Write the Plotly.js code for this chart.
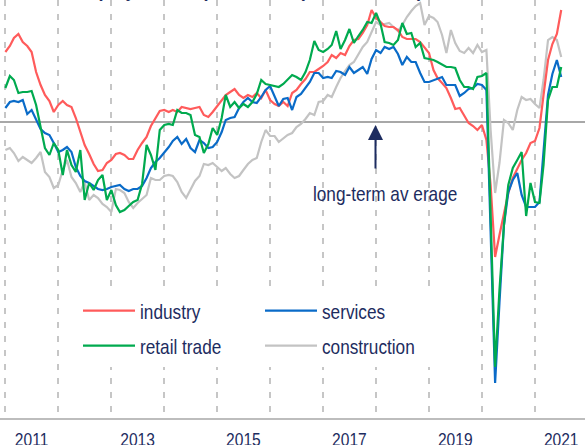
<!DOCTYPE html>
<html>
<head>
<meta charset="utf-8">
<script src="https://cdn.plot.ly/plotly-3.0.1.min.js"></script>
<style>
  html, body { margin: 0; padding: 0; background: #ffffff; }
  #chart { width: 585px; height: 445px; }
  /* the reference key is set in a narrow face: squeeze the legend labels */
  #chart text.legendtext, #chart text.legend2text {
    transform-box: fill-box;
    transform-origin: 0% 50%;
    transform: scaleX(0.82);
  }
</style>
</head>
<body>
<div id="chart"></div>
<script>
// Monthly series, Jan 2011 .. Jul 2021 (standardised balances, long-term average = 0)
const startYear = 2011;
const industry = [
  7.0, 7.6, 8.4, 8.8, 8.0, 7.6, 7.0, 5.0, 3.7, 2.7, 2.1, 1.0,
  1.7, 2.1, 1.7, 1.5, 0.4, -1.0, -2.3, -3.2, -4.2, -4.9, -4.8, -4.1,
  -3.8, -3.2, -3.1, -3.3, -3.7, -3.7, -2.8, -2.1, -1.5, -0.4, 0.4, 1.1,
  1.2, 1.0, 1.2, 1.0, 1.5, 1.4, 1.3, 1.4, 1.5, 0.7, 0.5, 1.0,
  1.6, 2.2, 2.7, 3.0, 3.3, 2.7, 2.4, 2.7, 2.5, 2.9, 2.4, 3.2,
  2.2, 1.8, 1.6, 2.0, 1.6, 2.9, 3.2, 3.8, 4.3, 5.0, 5.0, 5.3,
  5.6, 6.0, 6.7, 6.4, 6.9, 6.7, 7.6, 8.2, 8.3, 8.9, 9.7, 11.2,
  10.4, 10.0, 9.6, 9.5, 9.5, 9.2, 8.5, 8.3, 8.3, 8.3, 8.0, 7.5,
  6.9, 5.2, 4.4, 3.9, 3.4, 2.4, 1.3, 1.4, 0.6, -0.1, -0.4, -0.8,
  -0.3, -1.8, -6.3, -13.5, -11.3, -9.0, -7.1, -5.6, -4.6, -3.8, -3.1, -2.1,
  -1.9, -0.6, 2.7, 6.2, 7.8, 8.8, 11.2
];
const services = [
  1.4, 2.0, 2.1, 2.0, 2.2, 0.8, 1.2, 0.3, -0.7, -1.1, -1.3, -2.1,
  -3.0, -2.8, -2.5, -3.0, -4.5, -5.4, -5.9, -6.1, -6.4, -6.7, -6.8, -6.7,
  -6.5, -6.4, -6.3, -6.7, -6.9, -6.7, -6.7, -6.4, -5.6, -4.6, -4.0, -3.6,
  -3.1, -2.5, -1.9, -1.5, -2.2, -1.7, -2.6, -3.0, -1.8, -2.1, -2.6, -2.5,
  -2.0, -1.0, 0.2, 0.4, 0.5, 1.4, 2.0, 2.4, 2.0, 1.9, 2.5, 3.2,
  3.6, 2.5, 1.6, 2.3, 2.4, 1.2, 2.5, 2.8, 3.4, 4.0, 4.9, 4.9,
  4.4, 4.5, 4.4, 5.1, 5.0, 4.7, 5.5, 4.9, 5.2, 5.5, 4.8, 6.3,
  7.2, 6.9, 7.5, 7.3, 7.5, 6.8, 5.7, 6.5, 6.0, 6.0, 4.9, 4.0,
  4.0, 4.2, 4.3, 4.5, 3.7, 3.7, 3.7, 2.6, 2.9, 3.3, 3.4, 3.8,
  3.7, 3.2, -11.4, -26.1, -18.1, -10.3, -7.0, -5.8, -5.1, -7.3, -8.5, -8.5,
  -8.5, -8.0, -3.3, 2.7, 4.8, 6.2, 4.5
];
const retailTrade = [
  3.4, 4.6, 4.2, 2.9, 3.0, 3.0, 3.1, 1.7, -0.5, -2.6, -3.3, -2.1,
  -2.8, -5.3, -2.8, -4.3, -5.0, -2.8, -7.8, -6.1, -6.8, -5.8, -5.3, -7.8,
  -6.8, -8.3, -9.0, -8.8, -8.4, -8.0, -7.8, -6.2, -2.3, -3.3, -4.8, -0.8,
  -0.3, -0.2, -0.3, 1.2, 0.9, 0.9, 0.7, -1.3, -1.5, -3.1, -2.2, -0.6,
  -1.3, 0.4, 2.7, 1.5, 2.0, 1.4, 1.8, 1.5, 2.0, 2.8, 4.2, 3.8,
  3.7, 3.6, 3.5, 3.8, 4.2, 4.7, 4.5, 4.2, 5.0, 6.2, 8.1, 7.2,
  7.0, 7.3, 7.7, 9.1, 7.3, 8.2, 9.3, 7.9, 8.6, 9.2, 10.0, 9.9,
  10.9, 9.8, 8.0, 7.9, 7.7, 8.2, 9.9, 8.8, 8.9, 7.5, 7.9, 6.4,
  6.3, 6.2, 6.0, 5.7, 5.5, 5.5, 5.4, 4.2, 3.5, 3.5, 3.3, 4.5,
  4.6, 4.9, -9.8, -24.5, -16.8, -10.3, -6.3, -4.6, -3.8, -3.0, -9.4, -6.1,
  -8.0, -8.1, -4.3, 2.2, 3.5, 3.5, 5.5
];
const construction = [
  -2.8, -2.6, -3.1, -3.9, -3.5, -3.8, -4.1, -3.6, -3.0, -5.0, -5.5, -6.6,
  -6.3, -4.8, -3.8, -5.5, -6.1, -7.0, -6.0, -7.8, -7.3, -7.6, -8.2, -8.5,
  -9.0, -6.7, -6.8, -7.1, -8.0, -8.6, -8.1, -7.7, -7.3, -5.6, -5.8, -5.8,
  -5.4, -5.3, -5.4, -6.0, -7.0, -7.6, -6.8, -5.9, -5.4, -4.2, -4.3, -4.1,
  -4.5, -4.9, -4.6, -5.2, -5.6, -5.4, -4.8, -4.2, -3.8, -3.6, -2.0, -0.8,
  -1.4, -1.4, -2.0, -1.6, -1.3, -1.1, -0.5, -0.2, 0.3, 0.9, 0.7, 2.0,
  2.1, 2.7, 2.5, 3.5, 4.4, 5.1, 5.7, 6.0, 6.8, 7.5, 8.0, 8.9,
  10.0, 9.7, 9.8, 9.9, 9.5, 9.1, 9.7, 10.5, 11.1, 11.6, 11.9, 9.7,
  10.6, 10.4, 10.0, 8.7, 6.9, 9.2, 7.9, 7.1, 6.9, 7.4, 6.9, 7.7,
  7.0, 7.2, -0.8, -7.1, -4.1, 0.2, -0.1, -0.8, 1.2, 2.5, 2.2, 2.3,
  1.8, 1.4, 4.2, 8.2, 8.5, 8.2, 6.5
];
const seriesNames = ['industry', 'services', 'retail trade', 'construction'];
const seriesColors = ['#ff5b5b', '#0a6bc8', '#00aa4f', '#c3c3c3'];
const tickYears = ['2011', '2013', '2015', '2017', '2019', '2021'];
const titleText = 'Chart: EA, EC employment expectations (standardised)';
const noteText = 'long-term av erage';

// monthly dates
const months = industry.map((_, i) => {
  const d = new Date(Date.UTC(startYear, i, 1));
  return d.toISOString().slice(0, 10);
});

const navy = '#1d2c60';
const sans = '"Liberation Sans", Arial, sans-serif';
const SQUEEZE = 0.82;   // the reference text is set in a narrow face

function line(y, k, legend, rank) {
  return {
    type: 'scatter', mode: 'lines', x: months, y: y,
    name: seriesNames[k], legend: legend, legendrank: rank,
    line: { color: seriesColors[k], width: 2.2 },
    hoverinfo: 'skip'
  };
}

// key row 1 -> legend, key row 2 -> legend2
const data = [
  line(construction, 3, 'legend2', 2),
  line(industry, 0, 'legend', 1),
  line(services, 1, 'legend', 2),
  line(retailTrade, 2, 'legend2', 1)
];

const legendBase = {
  orientation: 'h', xanchor: 'left', yanchor: 'middle', x: 78 / 585,
  font: { family: sans, size: 21, color: navy },
  bgcolor: '#ffffff', borderwidth: 0,
  itemwidth: 52, entrywidth: 115, entrywidthmode: 'pixels',
  itemclick: false, itemdoubleclick: false
};

const layout = {
  width: 585, height: 445,
  margin: { l: 0, r: 0, t: 0, b: 27, pad: 0 },
  paper_bgcolor: '#ffffff', plot_bgcolor: '#ffffff',
  showlegend: true,
  legend: Object.assign({}, legendBase, { y: 1 - 311 / 418 }),
  legend2: Object.assign({}, legendBase, { y: 1 - 346 / 418 }),
  xaxis: {
    type: 'date',
    range: ['2010-11-25', '2021-12-12'],
    tickvals: tickYears.map(y => y + '-07-01'),
    ticktext: tickYears,
    ticks: '', showgrid: false, zeroline: false,
    showline: true, linecolor: '#bdbdbd', linewidth: 2,
    tickfont: { family: sans, size: 19, color: navy },
    ticklabelstandoff: 3,
    minor: {
      tick0: '2011-01-01', dtick: 'M12', showgrid: true,
      gridcolor: '#c6c6c6', gridwidth: 2, griddash: '6px,8px', ticks: ''
    },
    fixedrange: true
  },
  yaxis: {
    range: [-29.6, 12.2],
    showgrid: false, showticklabels: false, ticks: '', showline: false,
    zeroline: true, zerolinecolor: '#a8a8a8', zerolinewidth: 2,
    fixedrange: true
  },
  annotations: [
    { x: '2017-12-28', y: -0.3, xref: 'x', yref: 'y', text: '',
      showarrow: true, arrowhead: 2, arrowsize: 1.5, arrowwidth: 2,
      arrowcolor: navy, ax: 0, ay: 45, standoff: 0 },
    { x: '2018-03-03', y: -7.1, xref: 'x', yref: 'y', text: noteText,
      showarrow: false, xanchor: 'center', yanchor: 'middle',
      font: { family: sans, size: 21, color: navy } },
    { x: -53 / 585, y: 1, xref: 'paper', yref: 'paper', text: '<b>' + titleText + '</b>',
      showarrow: false, xanchor: 'left', yanchor: 'bottom', yshift: -3.5,
      font: { family: sans, size: 22, color: navy } }
  ],
  hovermode: false
};

// narrow axis / annotation text horizontally, keeping its anchor point in place
function squeezeText(el, anchor) {
  if (!el || el.getAttribute('data-sq') === '1') return;
  const b = el.getBBox();
  if (!b.width) return;
  const cx = anchor === 'left' ? b.x : b.x + b.width / 2;
  const prev = el.getAttribute('transform') || '';
  el.setAttribute('transform',
    prev + ' translate(' + cx + ',0) scale(' + SQUEEZE + ',1) translate(' + (-cx) + ',0)');
  el.setAttribute('data-sq', '1');
}
function squeezeAll() {
  const gd = document.getElementById('chart');
  gd.querySelectorAll('.xtick text').forEach(t => squeezeText(t, 'center'));
  gd.querySelectorAll('.annotation').forEach(a => {
    const idx = a.getAttribute('data-index');
    const t = a.querySelector('.annotation-text');
    if (idx === '1') squeezeText(t, 'center');
    if (idx === '2') squeezeText(t, 'left');
  });
}

Plotly.newPlot('chart', data, layout, { displayModeBar: false, staticPlot: true }).then(gd => {
  squeezeAll();
  gd.on('plotly_afterplot', squeezeAll);
  setTimeout(squeezeAll, 0);
  setTimeout(squeezeAll, 100);
});
</script>
</body>
</html>
